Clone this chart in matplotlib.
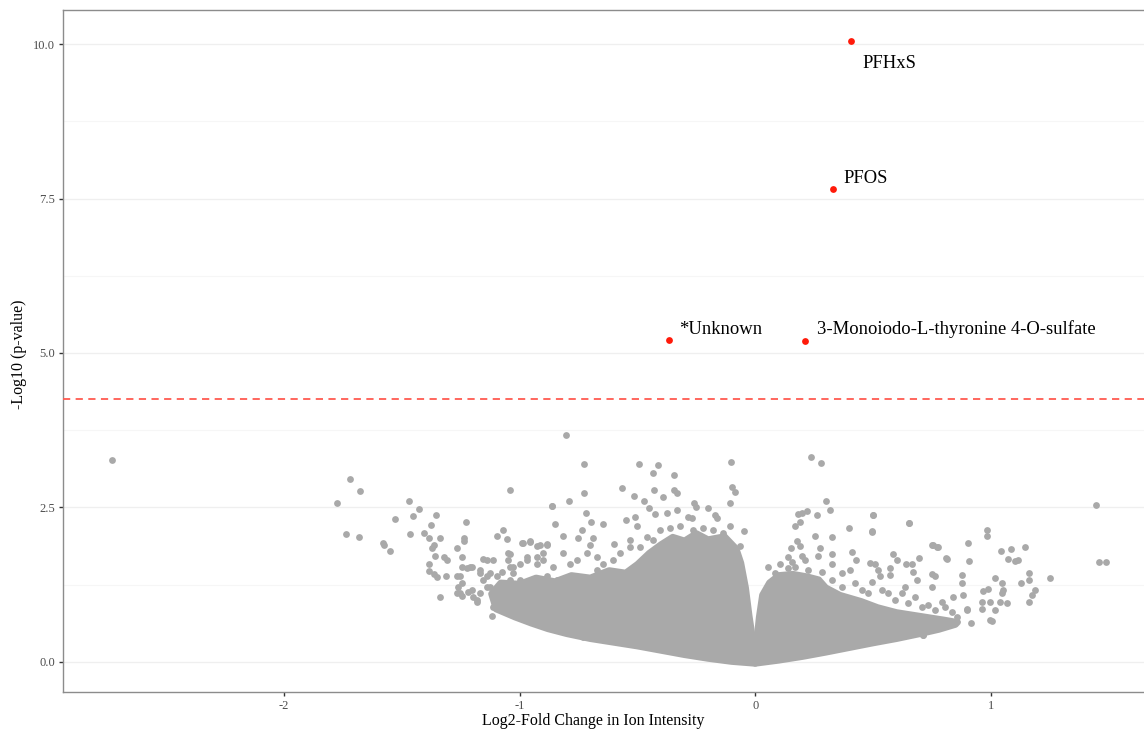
import matplotlib
matplotlib.use("Agg")
import matplotlib.pyplot as plt
from matplotlib.patches import Polygon
from matplotlib.ticker import MultipleLocator, FormatStrFormatter

plt.rcParams['font.family'] = ['Liberation Serif', 'DejaVu Serif']
plt.rcParams['axes.unicode_minus'] = False

# significance threshold (-log10 p)
threshold = 4.26

# labelled hits
hit_names = ["PFHxS", "PFOS", "*Unknown", "3-Monoiodo-L-thyronine 4-O-sulfate"]
hit_fc = [0.407, 0.332, -0.367, 0.210]
hit_nlp = [10.05, 7.66, 5.21, 5.19]

# outline of the densely packed part of the cloud (left and right arms of the V)
left_cloud_fc = [0.0, -0.1, -0.2, -0.3, -0.4, -0.5, -0.6, -0.7, -0.8, -0.88, -0.95, -1.02, -1.1,
                 -1.12, -1.08, -1.0, -0.93, -0.85, -0.78, -0.7, -0.62, -0.55, -0.5, -0.45, -0.4,
                 -0.35, -0.3, -0.25, -0.2, -0.13, -0.08, -0.06, -0.04, -0.025, -0.012]
left_cloud_nlp = [-0.03, 0.0, 0.05, 0.11, 0.18, 0.25, 0.31, 0.37, 0.45, 0.53, 0.62, 0.72, 0.85,
                  1.1, 1.28, 1.26, 1.36, 1.3, 1.4, 1.36, 1.48, 1.44, 1.58, 1.76, 1.9,
                  2.02, 1.96, 2.08, 1.98, 2.03, 1.83, 1.6, 1.2, 0.75, 0.42]
right_cloud_fc = [0.008, 0.016, 0.03, 0.06, 0.1, 0.16, 0.22, 0.27, 0.3, 0.36, 0.45, 0.52, 0.6,
                  0.7, 0.8, 0.86, 0.85, 0.78, 0.7, 0.6, 0.5, 0.42, 0.3, 0.2, 0.1, 0.0]
right_cloud_nlp = [0.42, 0.72, 1.08, 1.28, 1.4, 1.42, 1.38, 1.33, 1.2, 1.08, 0.98, 0.88, 0.8,
                   0.74, 0.68, 0.64, 0.6, 0.52, 0.45, 0.37, 0.3, 0.24, 0.15, 0.08, 0.02, -0.03]

# individual (non-significant) features outside the dense core
other_fc = [
    -2.731, -1.719, -1.676, -1.774, -1.737, -1.683, -1.581, -1.576, -1.551, -1.529,
    -1.469, -1.426, -1.452, -1.353, -1.377, -1.466, -1.407, -1.386, -1.337, -1.229,
    -1.235, -1.235, -1.041, -1.069, -1.095, -1.052, -0.991, -1.363, -1.371, -1.267,
    -1.358, -1.321, -1.309, -1.386, -1.386, -1.363, -1.352, -1.312, -1.245, -1.338,
    -1.117, -1.048, -1.246, -1.253, -1.260, -1.253, -1.246, -1.211, -1.203, -1.182,
    -1.168, -1.140, -1.126, -1.140, -1.048, -0.984, -0.956, -0.927, -0.885, -1.104,
    -1.083, -1.069, -1.041, -1.027, -0.998, -0.970, -0.927, -0.899, -0.970, -0.942,
    -0.998, -0.864, -0.851, -1.225, -1.203, -1.267, -1.246, -1.267, -1.218, -1.196,
    -1.168, -1.154, -1.140, -1.168, -1.182, -1.112, -1.126, -1.097, -1.076, -1.027,
    -0.998, -1.041, -1.083, -1.083, -1.055, -1.027, -1.006, -1.112, -1.041, -1.154,
    -0.802, -0.725, -0.493, -0.411, -0.435, -0.343, -0.101, -0.564, -0.725, -0.792,
    -0.862, -0.514, -0.472, -0.431, -0.390, -0.345, -0.333, -0.097, -0.086, -0.107,
    -0.452, -0.718, -0.698, -0.647, -0.817, -0.547, -0.510, -0.503, -0.425, -0.376,
    -0.333, -0.260, -0.251, -0.284, -0.270, -0.199, -0.171, -0.163, -0.048, -0.065,
    -0.107, -0.736, -0.751, -0.687, -0.701, -0.598, -0.956, -0.913, -0.885,
    -0.970, -0.927, -0.899, -0.857, -0.815, -0.786, -0.758, -0.715, -0.673, -0.645,
    -0.602, -0.574, -0.531, -0.531, -0.489, -0.460, -0.432, -0.404, -0.362, -0.319,
    -0.263, -0.220, -0.178, -0.135, -0.673, -0.630, -0.574, -0.885, -0.843, -0.942,
    -0.857, -0.786, -0.730,
    0.236, 0.278, 0.302, 0.317, 0.261, 0.183, 0.197, 0.219, 0.169, 0.190,
    0.500, 0.494, 0.653, 0.398, 0.254, 0.327, 0.176, 0.190, 0.152, 0.140,
    0.275, 0.268, 0.200, 0.325, 0.412, 0.427, 0.487, 0.508, 0.586, 0.601,
    0.639, 0.664, 0.695, 0.749, 0.770, 0.811, 0.749, 0.763, 0.572, 0.572,
    0.523, 0.530, 0.671, 0.685, 0.056, 0.105, 0.140, 0.325, 0.367, 0.402,
    0.494, 0.636, 0.749, 0.792, 0.714, 0.325, 0.367, 0.424, 0.452, 0.480,
    0.537, 0.565, 0.593, 0.622, 0.650, 0.678, 0.707, 0.735, 0.763, 0.806,
    0.834, 0.084, 0.169, 0.225, 0.282, 0.211, 0.155,
    1.448, 1.458, 1.489, 0.983, 0.985, 0.905, 0.906, 0.813, 1.042, 1.084,
    1.144, 1.074, 1.103, 1.117, 1.163, 1.163, 1.251, 1.127, 1.188, 1.174,
    1.163, 1.018, 1.046, 1.053, 0.968, 0.989, 0.961, 0.961, 0.997, 1.018,
    0.997, 1.039, 1.068, 0.915, 0.876, 0.876, 0.881, 0.841, 0.898, 0.855,
    0.712, 0.756, 0.777, 0.654, 0.499, 0.496, 1.046, 1.004, 0.898,
]
other_nlp = [
    3.26, 2.96, 2.76, 2.57, 2.06, 2.02, 1.92, 1.89, 1.79, 2.31,
    2.60, 2.48, 2.36, 2.37, 2.22, 2.07, 2.08, 2.01, 2.01, 2.27,
    2.01, 1.96, 2.78, 2.13, 2.04, 1.99, 1.93, 1.89, 1.84, 1.84,
    1.71, 1.69, 1.65, 1.58, 1.47, 1.42, 1.37, 1.39, 1.70, 1.04,
    0.74, 1.76, 1.54, 1.38, 1.21, 1.11, 1.06, 1.54, 1.16, 1.00,
    1.43, 1.38, 1.21, 1.65, 1.65, 1.92, 1.94, 1.87, 1.89, 1.00,
    0.95, 1.05, 1.54, 1.43, 1.32, 1.65, 1.70, 1.76, 0.68, 0.73,
    0.81, 2.52, 2.23, 1.51, 1.54, 1.38, 1.27, 1.11, 1.13, 1.05,
    1.48, 1.32, 1.21, 1.11, 0.97, 1.65, 1.43, 1.38, 1.46, 1.54,
    1.59, 1.32, 1.11, 0.97, 1.00, 0.84, 0.78, 0.89, 1.74, 1.67,
    3.67, 3.20, 3.20, 3.19, 3.06, 3.02, 3.24, 2.82, 2.73, 2.60,
    2.52, 2.68, 2.61, 2.78, 2.66, 2.78, 2.73, 2.83, 2.75, 2.57,
    2.49, 2.41, 2.27, 2.23, 2.04, 2.29, 2.35, 2.20, 2.39, 2.40,
    2.46, 2.57, 2.50, 2.35, 2.32, 2.49, 2.38, 2.32, 2.11, 1.88,
    2.20, 2.13, 2.00, 2.00, 1.89, 1.90, 1.96, 1.89, 1.91,
    1.70, 1.59, 1.65, 1.54, 1.76, 1.59, 1.65, 1.76, 1.70, 1.59,
    1.65, 1.76, 1.86, 1.97, 1.86, 2.02, 1.97, 2.13, 2.16, 2.19,
    2.13, 2.16, 2.13, 2.08, 1.48, 1.38, 1.43, 1.38, 1.32, 1.32,
    0.59, 0.46, 0.40,
    3.31, 3.21, 2.61, 2.45, 2.38, 2.39, 2.41, 2.44, 2.20, 2.27,
    2.38, 2.10, 2.24, 2.17, 2.04, 2.02, 1.95, 1.87, 1.84, 1.70,
    1.84, 1.71, 1.71, 1.74, 1.78, 1.64, 1.60, 1.59, 1.74, 1.64,
    1.58, 1.59, 1.68, 1.89, 1.86, 1.68, 1.42, 1.39, 1.51, 1.40,
    1.48, 1.38, 1.46, 1.32, 1.54, 1.59, 1.51, 1.58, 1.43, 1.48,
    1.29, 1.21, 1.21, 0.97, 0.43, 1.32, 1.21, 1.27, 1.16, 1.11,
    1.16, 1.11, 1.00, 1.11, 0.95, 1.05, 0.89, 0.92, 0.84, 0.89,
    0.81, 1.43, 1.54, 1.48, 1.46, 1.65, 1.62,
    2.53, 1.62, 1.62, 2.13, 2.04, 1.93, 1.63, 1.67, 1.80, 1.82,
    1.86, 1.67, 1.63, 1.65, 1.43, 1.32, 1.35, 1.27, 1.16, 1.08,
    0.96, 1.35, 1.27, 1.16, 1.15, 1.17, 0.96, 0.86, 0.97, 0.84,
    0.68, 0.97, 0.95, 0.63, 1.40, 1.27, 1.08, 1.05, 0.84, 0.73,
    0.43, 1.89, 1.86, 2.24, 2.38, 2.11, 1.11, 0.66, 0.85,
]

grey = "#A9A9A9"
red = "#FF1A0A"

fig = plt.figure(figsize=(11.44, 7.33), dpi=100)
ax = fig.add_axes([62.7 / 1144, 40.7 / 733, 1081.3 / 1144, 682.6 / 733])

ax.set_xlim(-2.939, 1.650)
ax.set_ylim(-0.495, 10.557)

# grid (horizontal only, very faint)
ax.yaxis.set_major_locator(MultipleLocator(2.5))
ax.yaxis.set_minor_locator(MultipleLocator(1.25))
ax.yaxis.set_major_formatter(FormatStrFormatter('%.1f'))
ax.set_xticks([-2, -1, 0, 1])
ax.set_xticklabels(["-2", "-1", "0", "1"])
ax.grid(axis='y', which='major', color='#EFEFEF', lw=0.9, zorder=0)
ax.grid(axis='y', which='minor', color='#F6F6F6', lw=0.8, zorder=0)
ax.tick_params(axis='y', which='minor', length=0)
ax.set_axisbelow(True)

# dense core
for cx, cy in [(left_cloud_fc, left_cloud_nlp), (right_cloud_fc, right_cloud_nlp)]:
    poly = Polygon(list(zip(cx, cy)), closed=True, facecolor=grey, edgecolor=grey,
                   lw=4.5, joinstyle='round', zorder=2)
    ax.add_patch(poly)

ax.scatter(other_fc, other_nlp, s=24, color=grey, lw=0, zorder=3)

ax.axhline(threshold, color='#FF5A50', lw=1.3, ls=(0, (4, 3)), zorder=4)

ax.scatter(hit_fc, hit_nlp, s=24, color=red, lw=0, zorder=5)
label_offsets = [(11, -22), (10, 10), (10, 10), (12, 12)]
for name, x, y, off in zip(hit_names, hit_fc, hit_nlp, label_offsets):
    ax.annotate(name, (x, y), xytext=off, textcoords='offset pixels',
                ha='left', va='center', fontsize=13.4, color='black', zorder=6)

for side in ['left', 'bottom', 'top']:
    ax.spines[side].set_color('#8C8C8C')
    ax.spines[side].set_linewidth(1.0)
ax.spines['right'].set_visible(False)

ax.tick_params(axis='both', which='major', length=2.8, width=1.0, color='#333333',
               labelcolor='#4D4D4D', labelsize=9, pad=2.6)

ax.set_xlabel("Log2-Fold Change in Ion Intensity", fontsize=11.5, color='black')
ax.set_ylabel("-Log10 (p-value)", fontsize=11.5, color='black')
ax.xaxis.set_label_coords(0.491, -0.0415)
ax.xaxis.label.set_va('center')
ax.yaxis.set_label_coords(-0.0405, 0.4956)
ax.yaxis.label.set_va('center')

fig.savefig("out.png", dpi=100)
